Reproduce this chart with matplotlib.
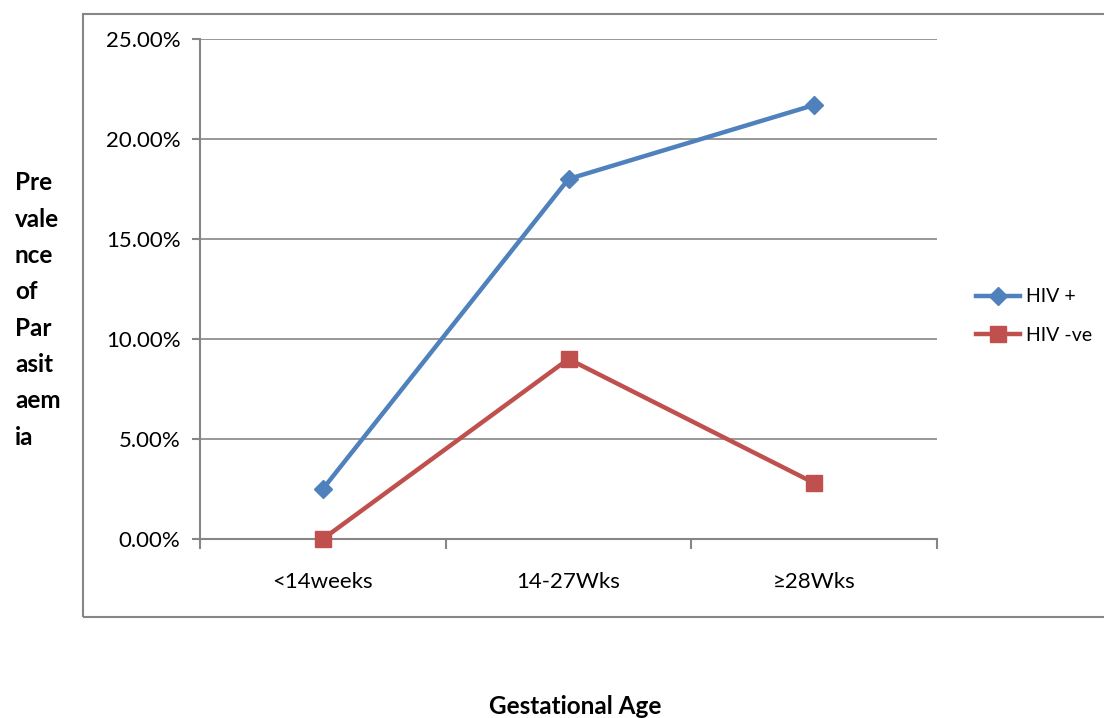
import matplotlib
matplotlib.use('Agg')
from matplotlib import pyplot as plt
from matplotlib.patches import Rectangle
from matplotlib.ticker import PercentFormatter, MultipleLocator
import numpy as np

plt.rcParams['font.family'] = ['Lato', 'DejaVu Sans']

categories = ["<14weeks", "14-27Wks", "\u226528Wks"]
hiv_pos = [2.5, 18.0, 21.7]
hiv_neg = [0.0, 9.0, 2.8]
series_labels = ["HIV +", "HIV -ve"]
ylabel_lines = ["Pre", "vale", "nce", "of", "Par", "asit", "aem", "ia"]
xlabel = "Gestational Age"

blue = '#4F81BD'
red = '#C0504D'
grey = '#868686'

fig = plt.figure(figsize=(11.04, 7.18), dpi=100)

# outer chart frame (runs off the right edge)
fig.patches.append(Rectangle((83 / 1104, 1 - 617 / 718), 1.2, (617 - 14) / 718,
                             transform=fig.transFigure, fill=False,
                             edgecolor=grey, linewidth=1.5))

ax = fig.add_axes([200 / 1104, 1 - 539 / 718, 737 / 1104, 500 / 718])
x = np.arange(len(categories))

l1, = ax.plot(x, hiv_pos, color=blue, lw=3.2, marker='D', ms=9,
              markerfacecolor=blue, markeredgecolor=blue, clip_on=False, zorder=4)
l2, = ax.plot(x, hiv_neg, color=red, lw=3.2, marker='s', ms=11,
              markerfacecolor=red, markeredgecolor=red, clip_on=False, zorder=4)

ax.set_xlim(-0.5, len(categories) - 0.5)
ax.set_ylim(0, 25)
ax.yaxis.set_major_locator(MultipleLocator(5))
ax.yaxis.set_major_formatter(PercentFormatter(decimals=2))
ax.grid(axis='y', color=grey, lw=1.2)
ax.set_axisbelow(True)

for s in ['top', 'right']:
    ax.spines[s].set_visible(False)
ax.spines['left'].set_color(grey)
ax.spines['bottom'].set_color(grey)
ax.spines['left'].set_linewidth(1.5)
ax.spines['bottom'].set_linewidth(1.5)

ax.set_xticks(x)
ax.set_xticklabels(categories, fontsize=16)
ax.set_xticks(np.arange(len(categories) + 1) - 0.5, minor=True)
ax.tick_params(axis='x', which='major', length=0, pad=24)
ax.tick_params(axis='x', which='minor', length=7, color=grey, width=1.5)
ax.tick_params(axis='y', length=6, color=grey, width=1.5, labelsize=16, pad=8)

fig.text(15 / 1104, 1 - 310 / 718, "\n".join(ylabel_lines), ha='left', va='center',
         fontsize=17.5, fontweight='bold', linespacing=1.7)
fig.text(575 / 1104, 1 - 706 / 718, xlabel, ha='center', va='center',
         fontsize=17.5, fontweight='bold')

fig.legend([l1, l2], series_labels, loc='center left',
           bbox_to_anchor=(958 / 1104, 1 - 316 / 718), frameon=False,
           fontsize=14, handlelength=2.3, labelspacing=1.1, handletextpad=0.3)

fig.savefig('out.png', dpi=100)
